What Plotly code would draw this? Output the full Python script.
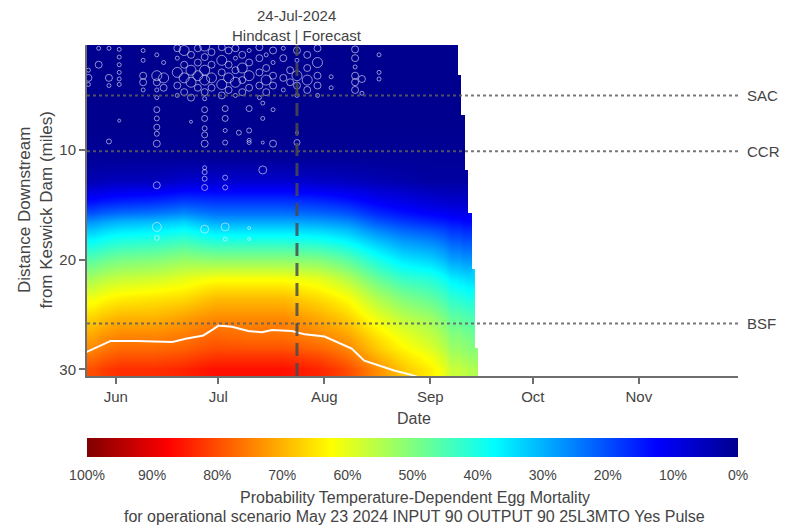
import plotly.graph_objects as go

# ---------------- data ----------------
# heatmap brick edges: dates (columns) and miles downstream of Keswick (rows)
date_edges = ['2024-05-23', '2024-05-28', '2024-06-07', '2024-06-17', '2024-06-25',
              '2024-07-05', '2024-07-15', '2024-07-25', '2024-08-04', '2024-08-12',
              '2024-08-20', '2024-08-28', '2024-09-05', '2024-09-09 02:00',
              '2024-09-09 22:00', '2024-09-11 02:00', '2024-09-12', '2024-09-13 02:00',
              '2024-09-14', '2024-09-14 22:00']
mile_edges = [0.4, 3.1, 6.8, 9.5, 11.8, 13.7, 15.7, 17.3, 19.0, 20.8, 22.6, 24.4,
              26.2, 28.0, 29.3, 30.6]

N = None
# probability (%) of temperature-dependent egg mortality, rows = miles, cols = dates
mortality = [
    [0, 0, 0, 0, 0, 0, 0, 0, 0, 0, 0, 0, 0, N, N, N, N, N, N],
    [0, 0, 0, 0, 0, 0, 0, 0, 0, 0, 0, 0, 0, 0, N, N, N, N, N],
    [0, 0, 0, 0, 0, 0, 0, 0, 0, 0, 0, 0, 0, 0, 0, N, N, N, N],
    [1, 1, 1, 1, 1, 1, 1, 1, 1, 1, 1, 1, 1, 1, 1, N, N, N, N],
    [4, 5, 5, 7, 7, 7, 7, 6, 5, 4, 3, 2, 2, 2, 2, 2, N, N, N],
    [14, 16, 17, 19, 18, 18, 18, 17, 15, 12, 10, 8, 7, 7, 7, 6, N, N, N],
    [27, 30, 31, 33, 29, 29, 29, 28, 26, 21, 18, 16, 14, 14, 13, 13, 13, N, N],
    [37, 40, 41, 43, 40, 40, 40, 39, 36, 31, 27, 25, 21, 21, 20, 20, 20, N, N],
    [46, 49, 50, 52, 51, 51, 51, 50, 46, 40, 35, 33, 28, 28, 27, 27, 27, N, N],
    [54, 57, 58, 60, 62, 62, 62, 60, 55, 48, 43, 41, 36, 35, 35, 34, 34, 34, N],
    [61, 64, 65, 66, 69, 69, 69, 66, 62, 55, 50, 47, 42, 41, 41, 40, 40, 40, N],
    [67, 70, 70, 72, 74, 74, 74, 71, 67, 61, 56, 53, 47, 47, 46, 46, 45, 45, N],
    [72, 75, 75, 76, 78, 77, 77, 75, 72, 66, 61, 57, 51, 51, 50, 50, 49, 49, N],
    [76, 79, 79, 80, 82, 82, 82, 80, 76, 70, 65, 61, 54, 54, 53, 53, 52, 52, 52],
    [80, 83, 83, 84, 86, 86, 86, 84, 80, 74, 68, 64, 57, 57, 56, 56, 55, 55, 55],
]

month_ticks = ['2024-06-01', '2024-07-01', '2024-08-01', '2024-09-01', '2024-10-01', '2024-11-01']
month_labels = ['Jun', 'Jul', 'Aug', 'Sep', 'Oct', 'Nov']
mile_ticks = [10, 20, 30]

pct_ticks = [100, 90, 80, 70, 60, 50, 40, 30, 20, 10, 0]
pct_labels = ['100%', '90%', '80%', '70%', '60%', '50%', '40%', '30%', '20%', '10%', '0%']

forecast_date = '2024-07-24'
site_names = ['SAC', 'CCR', 'BSF']
site_miles = [5.0, 10.1, 25.8]

# white contour line
contour_dates = ['2024-05-23 12:00', '2024-05-26 12:00', '2024-05-30 12:00', '2024-06-07',
                 '2024-06-17 14:00', '2024-06-21 10:00', '2024-06-26 14:00', '2024-06-29 05:00',
                 '2024-07-01', '2024-07-05', '2024-07-09 17:00', '2024-07-13 19:00',
                 '2024-07-16 17:00', '2024-07-22 12:00', '2024-07-26 07:00', '2024-08-01 02:00',
                 '2024-08-04 22:00', '2024-08-09', '2024-08-12 17:00', '2024-08-16 12:00',
                 '2024-08-21 10:00', '2024-08-26 10:00', '2024-08-28 12:00']
contour_miles = [28.4, 28.0, 27.4, 27.4, 27.5, 27.2, 26.9, 26.4, 26.0, 26.1, 26.5, 26.6,
                 26.4, 26.5, 26.8, 27.0, 27.5, 28.1, 29.2, 29.6, 30.1, 30.5, 30.7]

# redd observations: date, miles for that date, marker sizes
redd_days = ['2024-05-24', '2024-05-27', '2024-05-30', '2024-06-02', '2024-06-09', '2024-06-13',
             '2024-06-15', '2024-06-19', '2024-06-21', '2024-06-23', '2024-06-25', '2024-06-27',
             '2024-06-29', '2024-07-02', '2024-07-03', '2024-07-04', '2024-07-06', '2024-07-07',
             '2024-07-08', '2024-07-10', '2024-07-13', '2024-07-14', '2024-07-15', '2024-07-17',
             '2024-07-20', '2024-07-22', '2024-07-24', '2024-07-27', '2024-07-30', '2024-08-03',
             '2024-08-10', '2024-08-12', '2024-08-17']
redd_miles = [
    [3.4, 4.0, 2.7], [2.2, 0.7], [0.7, 3.4, 4.1, 9.2], [0.8, 1.5, 2.2, 2.9, 3.5, 4.0, 7.3],
    [0.9, 1.8, 3.2, 3.8, 4.5],
    [1.3, 3.2, 3.8, 4.5, 5.2, 6.3, 7.1, 7.9, 8.5, 9.4, 13.2, 17.0, 18.0],
    [2.0, 3.4, 4.3], [0.7, 1.6, 2.9, 4.1, 5.0], [0.9, 2.2, 3.4, 4.7], [1.3, 2.7, 3.8, 5.2, 7.4],
    [0.7, 2.0, 3.2, 4.3],
    [0.5, 1.5, 2.7, 3.6, 4.7, 5.3, 6.3, 7.1, 8.0, 8.6, 9.4, 11.6, 12.0, 12.6, 13.4, 17.2],
    [1.05, 2.2, 3.4, 4.3], [0.6, 1.8, 2.9, 4.0, 5.0], [6.2, 7.1, 8.2, 9.3, 12.5, 13.4, 17.0, 18.1],
    [0.9, 2.2, 3.4, 4.5], [0.7, 1.6, 2.7, 3.8, 5.0], [8.4], [1.3, 2.5, 3.6, 4.7],
    [0.9, 2.0, 3.2, 4.3, 6.2, 8.2, 9.1, 9.3, 17.1, 18.1], [0.6, 1.6, 2.9, 4.1, 5.2],
    [5.7, 7.1, 9.3, 11.8], [1.3, 2.5, 3.6, 4.7], [0.9, 2.0, 3.2, 4.1, 6.3, 9.4],
    [0.7, 1.6, 3.4, 4.5], [2.7, 3.8], [0.9, 1.8, 3.2, 4.1, 5.0, 8.4, 9.3], [1.3, 2.5, 3.6, 4.5],
    [0.7, 2.0, 3.2, 4.1, 5.0], [3.3, 4.3], [0.8, 1.6, 2.4, 3.2, 3.8, 4.5], [3.5, 4.8],
    [1.3, 2.9, 3.5],
]
redd_sizes = [
    [7, 4, 4], [7, 4], [4, 7, 4, 5], [4, 4, 4, 4, 4, 4, 3],
    [4, 4, 7, 7, 4],
    [4, 10, 7, 4, 4, 6, 5, 6, 5, 7, 7, 9, 5],
    [4, 10, 7], [7, 4, 10, 7, 4], [10, 7, 10, 7], [7, 10, 10, 7, 3],
    [7, 7, 10, 7],
    [10, 7, 10, 10, 7, 4, 6, 6, 5, 6, 7, 4, 5, 5, 6, 8],
    [7, 7, 10, 7], [7, 10, 7, 10, 7], [6, 6, 4, 5, 5, 5, 8, 4],
    [7, 7, 10, 7], [7, 4, 7, 10, 4], [5], [7, 10, 7, 7],
    [4, 7, 10, 7, 6, 5, 4, 4, 3, 3], [7, 7, 7, 7, 4],
    [4, 4, 3, 8], [4, 7, 10, 7], [7, 4, 7, 7, 4, 7],
    [4, 7, 7, 4], [7, 7], [7, 4, 10, 7, 4, 3, 6], [7, 7, 10, 7],
    [7, 10, 7, 7, 4], [4, 4], [7, 7, 4, 7, 7, 7], [7, 4],
    [4, 4, 4],
]

# ---------------- figure ----------------
FONT = 'Liberation Sans, Arial, Helvetica, sans-serif'
TXT = '#444444'
AXC = '#6e6e6e'

# reversed MATLAB-style jet so that the colour bar reads 100% (left) -> 0% (right)
jet_rev = [[0.0, 'rgb(128,0,0)'], [0.125, 'rgb(255,0,0)'], [0.375, 'rgb(255,255,0)'],
           [0.625, 'rgb(0,255,255)'], [0.875, 'rgb(0,0,255)'], [1.0, 'rgb(0,0,143)']]

z_plot = [[(-v if v is not None else None) for v in row] for row in mortality]

plot_top, plot_bottom, plot_left, plot_right = 45, 376, 87, 738
ph = plot_bottom - plot_top
pw = plot_right - plot_left


def py(pix):
    return (plot_bottom - pix) / ph


def px(pix):
    return (pix - plot_left) / pw


fig = go.Figure()
fig.add_trace(go.Heatmap(
    x=date_edges, y=mile_edges, z=z_plot, zsmooth='best',
    colorscale=jet_rev, zmin=-100, zmax=0, hoverinfo='skip',
    colorbar=dict(orientation='h', x=0.5, xanchor='center', y=py(438), yanchor='top',
                  lenmode='fraction', len=1.0, thicknessmode='pixels', thickness=19,
                  xpad=0, ypad=0, outlinewidth=0,
                  tickvals=[-p for p in pct_ticks], ticktext=pct_labels,
                  ticks='outside', ticklen=7, tickwidth=1, tickcolor='rgba(0,0,0,0)',
                  tickfont=dict(family=FONT, size=14, color=TXT)),
))

fig.add_trace(go.Scatter(x=contour_dates, y=contour_miles, mode='lines',
                         line=dict(color='white', width=2), hoverinfo='skip'))

rx, ry, rs = [], [], []
for d, ms, ss in zip(redd_days, redd_miles, redd_sizes):
    for m, s in zip(ms, ss):
        rx.append(d)
        ry.append(m)
        rs.append(s)
fig.add_trace(go.Scatter(x=rx, y=ry, mode='markers',
                         marker=dict(symbol='circle-open', size=rs, color='rgba(235,235,255,0.85)',
                                     line=dict(width=1)),
                         hoverinfo='skip'))

shapes = []
for m in site_miles:
    shapes.append(dict(type='line', xref='paper', x0=0, x1=1, yref='y', y0=m, y1=m,
                       line=dict(color='rgba(95,95,95,0.85)', width=2, dash='dot')))
shapes.append(dict(type='line', xref='x', x0=forecast_date, x1=forecast_date, yref='paper',
                   y0=0, y1=1, line=dict(color='rgba(75,75,75,0.85)', width=3, dash='13px,7px')))


def ann(text, x, y, xref='paper', yref='paper', size=15, xanchor='center', angle=0):
    return dict(text=text, x=x, y=y, xref=xref, yref=yref, xanchor=xanchor, yanchor='middle',
                showarrow=False, textangle=angle, font=dict(size=size, color=TXT))


annotations = [
    ann('24-Jul-2024', forecast_date, py(16), xref='x', size=15),
    ann('Hindcast | Forecast', forecast_date, py(36), xref='x', size=15),
    ann('Date', px(414), py(418), size=16),
    ann('Distance Downstream<br>from Keswick Dam (miles)', px(35), 0.5, size=17, angle=-90),
    ann('Probability Temperature-Dependent Egg Mortality', px(415), py(497), size=16),
    ann('for operational scenario May 23 2024 INPUT 90 OUTPUT 90 25L3MTO Yes Pulse',
        px(414), py(516), size=16),
]
for name, m in zip(site_names, site_miles):
    annotations.append(ann(name, px(745), m, yref='y', size=15, xanchor='left'))

fig.update_layout(
    width=786, height=531,
    margin=dict(l=plot_left, r=786 - plot_right, t=plot_top, b=531 - plot_bottom),
    plot_bgcolor='white', paper_bgcolor='white',
    font=dict(family=FONT, color=TXT),
    showlegend=False, shapes=shapes, annotations=annotations,
)
fig.update_xaxes(type='date', range=['2024-05-23 14:00', '2024-11-30'],
                 tickvals=month_ticks, ticktext=month_labels,
                 showgrid=False, zeroline=False, showline=True, linecolor=AXC, linewidth=2,
                 ticks='outside', ticklen=6, tickwidth=2, tickcolor=AXC,
                 tickfont=dict(size=15, color=TXT))
fig.update_yaxes(range=[30.6, 0.4], tickvals=mile_ticks,
                 showgrid=False, zeroline=False, showline=True, linecolor=AXC, linewidth=2,
                 ticks='outside', ticklen=6, tickwidth=2, tickcolor=AXC,
                 tickfont=dict(size=15, color=TXT))

fig.write_html('out.html', config={'displayModeBar': False},
               post_script="document.body.style.margin='0px';")
